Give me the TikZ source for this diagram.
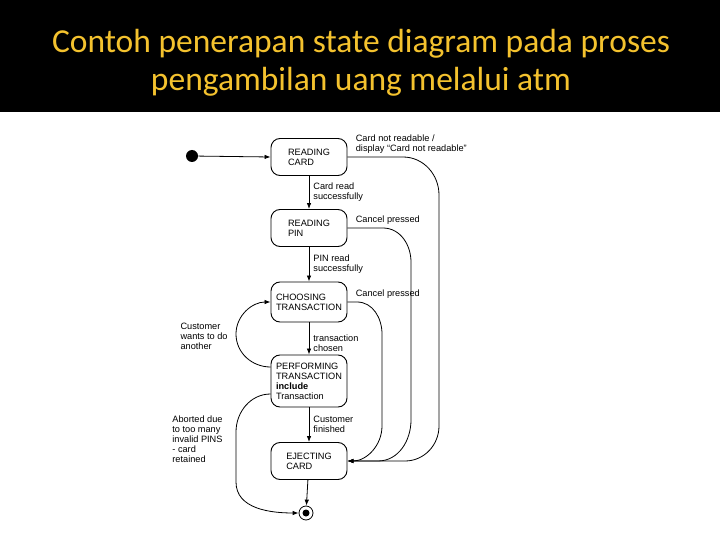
\documentclass[tikz,border=0pt]{standalone}
\usepackage{fontspec}
\setmainfont{Liberation Sans}
\newfontfamily\titlefont{Carlito}
\usetikzlibrary{positioning, arrows.meta}
\definecolor{titlegold}{HTML}{F4C22E}

\begin{document}
\begin{tikzpicture}[
      x=1pt, y=-1pt,
      every node/.style={font=\fontsize{9.2}{10}\selectfont},
      every path/.style={line width=0.8pt},
      state/.style={draw, line width=0.9pt, rounded corners=9pt, minimum width=76pt, minimum height=37pt, align=left},
      lbl/.style={align=left, inner sep=1pt},
      >={Latex[length=6pt, width=4.5pt]},
    ]
    \useasboundingbox (0,0) rectangle (720,540);
    \fill[black] (0,0) rectangle (720,112);

    % Title
    \node[font=\titlefont\fontsize{33.5}{38}\selectfont, text=titlegold, align=center] (title) at (361,63) {%
      Contoh penerapan state diagram pada proses\\pengambilan uang melalui atm};

    % States
    \node[circle, fill, minimum size=12pt, inner sep=0pt] (init) at (192,156) {};
    \node[state] (rc) at (309,157) {READING\\CARD};
    \node[state] (rp) at (309,228) {READING\\PIN};
    \node[state, minimum height=40pt] (ct) at (309,302) {CHOOSING\\TRANSACTION};
    \node[state, minimum height=52pt] (pt) at (309,381) {PERFORMING\\TRANSACTION\\\textbf{include}\\Transaction};
    \node[state] (ec) at (309,461) {EJECTING\\CARD};
    \node[circle, draw, minimum size=14pt, inner sep=0pt] (fin) at (306,513) {};
    \fill (fin) circle (3.5pt);

    % Straight transitions
    \draw[->] (init) -- (rc.west);
    \draw[->] (rc) -- (rp) node[lbl, midway, right=3pt] {Card read\\successfully};
    \draw[->] (rp) -- (ct) node[lbl, midway, right=3pt] {PIN read\\successfully};
    \draw[->] (ct) -- (pt) node[lbl, pos=0.65, right=3pt] {transaction\\chosen};
    \draw[->] (pt) -- (ec) node[lbl, midway, right=3pt] {Customer\\finished};
    \draw[->] (ec) -- (fin);

    % Cancel / not readable
    \draw[->] (rc.east) -- (403,157) to[out=0, in=90] (439,195) -- (439,426)
      to[out=-90, in=0] (405,461) -- (ec.east);
    \draw[->] (rp.east) -- (383,228) to[out=0, in=90] (411,262) -- (411,420)
      to[out=-90, in=0] (378,461) -- (ec.east);
    \draw[->] (ct.east) -- (357,302) to[out=0, in=90] (382,334) -- (382,426)
      to[out=-90, in=0] (ec.east);
    \node[lbl, above right=2pt and 7pt of rc.east] (nr) {Card not readable /\\display “Card not readable”};
    \node[lbl, above right=2pt and 7pt of rp.east] (cp1) {Cancel pressed};
    \node[lbl, above right=2pt and 7pt of ct.east] (cp2) {Cancel pressed};

    % Loop back and abort
    \draw[->] ([yshift=14pt]pt.west) to[out=180, in=-90] (236,334) to[out=90, in=180] (ct.west);
    \node[lbl, anchor=east] (again) at (229,336) {Customer\\wants to do\\another};
    \draw[->] ([yshift=-13pt]pt.west) to[out=180, in=90] (236,432) -- (236,482)
      to[out=-90, in=180] (fin.west);
    \node[lbl, anchor=west] (abort) at (171,439) {Aborted due\\to too many\\invalid PINS\\- card\\retained};
  \end{tikzpicture}
\end{document}
